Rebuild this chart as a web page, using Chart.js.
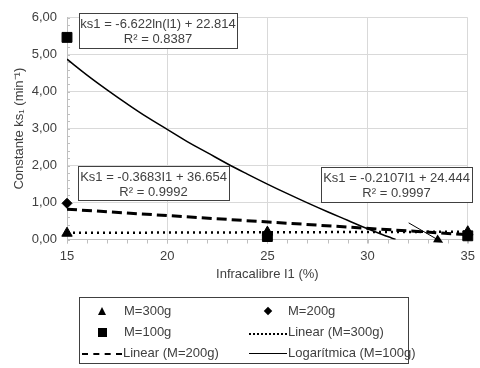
<!DOCTYPE html>
<html>
<head>
<meta charset="utf-8">
<script src="https://cdn.jsdelivr.net/npm/chart.js@4.4.1/dist/chart.umd.min.js"></script>
<style>
  html, body { margin: 0; padding: 0; background: #fff; }
  #wrap { position: relative; width: 480px; height: 368px; }
  #legend {
    position: absolute; left: 79px; top: 297px; width: 330px; height: 67px;
    border: 1px solid #404040; box-sizing: border-box;
    font: 13px "Liberation Sans", Arial, sans-serif; color: #404040;
  }
  .it { position: absolute; height: 16px; line-height: 16px; white-space: nowrap; }
  .mk { position: absolute; background: #000; }
  .ln { position: absolute; height: 0; }
</style>
</head>
<body>
<div id="wrap">
  <canvas id="chart" width="480" height="368"></canvas>
  <div id="legend">
    <div class="mk" style="left:18px;top:9px;width:0;height:0;background:none;border-left:4.5px solid transparent;border-right:4.5px solid transparent;border-bottom:8px solid #000;"></div>
    <div class="it" style="left:44px;top:5px;">M=300g</div>
    <div class="mk" style="left:185px;top:10px;width:6px;height:6px;transform:rotate(45deg);"></div>
    <div class="it" style="left:208px;top:5px;">M=200g</div>
    <div class="mk" style="left:18px;top:30px;width:9px;height:9px;"></div>
    <div class="it" style="left:44px;top:26px;">M=100g</div>
    <div class="ln" style="left:169px;top:35px;width:38px;border-top:2px dotted #000;"></div>
    <div class="it" style="left:208px;top:26px;">Linear (M=300g)</div>
    <div class="ln" style="left:2px;top:55px;width:40px;border-top:2.5px dashed #000;"></div>
    <div class="it" style="left:43px;top:47px;">Linear (M=200g)</div>
    <div class="ln" style="left:169px;top:55px;width:38px;border-top:1.5px solid #000;"></div>
    <div class="it" style="left:208px;top:47px;">Logarítmica (M=100g)</div>
  </div>
</div>
<script>
// datos
const infracalibre = [15, 25, 35];
const ks300 = [0.17, 0.20, 0.21];
const ks200 = [0.98, 0.15, 0.12];
const ks100 = [5.47, 0.08, 0.10];

// líneas de tendencia
const linX = [15, 35];
const lin300 = [0.18, 0.21];
const lin200 = [0.82, 0.13];
const logX = [15, 16, 17, 18, 19, 20, 21, 22, 23, 24, 25, 26, 27, 28, 29, 30, 31, 31.4];
const log100 = [4.88, 4.45, 4.05, 3.67, 3.31, 2.98, 2.65, 2.35, 2.05, 1.77, 1.50, 1.24, 0.99, 0.75, 0.52, 0.29, 0.08, 0.0];

// flecha (coordenadas de datos)
const arrowX = [32.05, 33.77];
const arrowY = [0.45, -0.09];

const FONT = '"Liberation Sans", Arial, sans-serif';

function pts(xs, ys) {
    return xs.map((x, i) => ({x: x, y: ys[i]}));
}

// cuadros de texto, flecha y marcas menores
const extras = {
    id: "extras",
    beforeDatasetsDraw(chart) {
        const ctx = chart.ctx;
        const xs = chart.scales.x, ys = chart.scales.y;
        ctx.save();
        ctx.strokeStyle = "#bfbfbf";
        ctx.lineWidth = 1;
        ctx.beginPath();
        for (let v = 15; v <= 35; v++) {
            const px = Math.round(xs.getPixelForValue(v)) + 0.5;
            ctx.moveTo(px, ys.bottom);
            ctx.lineTo(px, ys.bottom + 4);
        }
        for (let v = 0; v <= 6.001; v += 0.2) {
            const py = Math.round(ys.getPixelForValue(v)) + 0.5;
            ctx.moveTo(xs.left, py);
            ctx.lineTo(xs.left + 3, py);
        }
        ctx.stroke();
        ctx.restore();
    },
    afterDatasetsDraw(chart) {
        const ctx = chart.ctx;
        const xs = chart.scales.x, ys = chart.scales.y;
        ctx.save();
        // flecha
        const x0 = xs.getPixelForValue(arrowX[0]), y0 = ys.getPixelForValue(arrowY[0]);
        const x1 = xs.getPixelForValue(arrowX[1]), y1 = ys.getPixelForValue(arrowY[1]);
        const ang = Math.atan2(y1 - y0, x1 - x0);
        ctx.strokeStyle = "#000";
        ctx.fillStyle = "#000";
        ctx.lineWidth = 1;
        ctx.beginPath();
        ctx.moveTo(x0, y0);
        ctx.lineTo(x1 - 7 * Math.cos(ang), y1 - 7 * Math.sin(ang));
        ctx.stroke();
        ctx.beginPath();
        ctx.moveTo(x1, y1);
        ctx.lineTo(x1 - 9 * Math.cos(ang) + 4.5 * Math.sin(ang), y1 - 9 * Math.sin(ang) - 4.5 * Math.cos(ang));
        ctx.lineTo(x1 - 9 * Math.cos(ang) - 4.5 * Math.sin(ang), y1 - 9 * Math.sin(ang) + 4.5 * Math.cos(ang));
        ctx.closePath();
        ctx.fill();

        // cuadros
        const boxes = [
            {x: 79, y: 13, w: 158, h: 35, lines: ["ks1 = -6.622ln(l1) + 22.814", "R² = 0.8387"]},
            {x: 78, y: 166, w: 151, h: 34, lines: ["Ks1 = -0.3683I1 + 36.654", "R² = 0.9992"]},
            {x: 321, y: 167, w: 151, h: 35, lines: ["Ks1 = -0.2107I1 + 24.444", "R² = 0.9997"]},
        ];
        ctx.font = "13px " + FONT;
        ctx.textAlign = "center";
        ctx.textBaseline = "middle";
        for (const b of boxes) {
            ctx.fillStyle = "#fff";
            ctx.fillRect(b.x, b.y, b.w, b.h);
            ctx.strokeStyle = "#404040";
            ctx.strokeRect(b.x + 0.5, b.y + 0.5, b.w, b.h);
            ctx.fillStyle = "#404040";
            ctx.fillText(b.lines[0], b.x + b.w / 2, b.y + 11);
            ctx.fillText(b.lines[1], b.x + b.w / 2, b.y + 26);
        }
        ctx.restore();
    }
};

new Chart(document.querySelector("#chart"), {
    type: "scatter",
    data: {
        datasets: [
            {label: "M=300g", data: pts(infracalibre, ks300), pointStyle: "triangle", pointRadius: 6,
             backgroundColor: "#000", borderColor: "#000", clip: false, order: 0},
            {label: "M=200g", data: pts(infracalibre, ks200), pointStyle: "rectRot", pointRadius: 5,
             backgroundColor: "#000", borderColor: "#000", clip: false, order: 0},
            {label: "M=100g", data: pts(infracalibre, ks100), pointStyle: "rect", pointRadius: 7,
             backgroundColor: "#000", borderColor: "#000", clip: false, order: 0},
            {label: "Linear (M=300g)", data: pts(linX, lin300), showLine: true, pointRadius: 0,
             borderColor: "#000", borderWidth: 2.5, borderDash: [2, 4], order: 1},
            {label: "Linear (M=200g)", data: pts(linX, lin200), showLine: true, pointRadius: 0,
             borderColor: "#000", borderWidth: 3, borderDash: [10, 5], order: 1},
            {label: "Logarítmica (M=100g)", data: pts(logX, log100), showLine: true, pointRadius: 0,
             borderColor: "#000", borderWidth: 1.5, tension: 0.4, order: 1},
        ],
    },
    options: {
        responsive: false,
        animation: false,
        layout: {padding: {left: 8, top: 15, right: 8, bottom: 82}},
        plugins: {legend: {display: false}, tooltip: {enabled: false}},
        scales: {
            x: {
                type: "linear", min: 15, max: 35,
                afterFit: s => { s.height = 46.5; },
                ticks: {stepSize: 5, padding: 5, color: "#404040", font: {family: FONT, size: 13}},
                grid: {color: "#d9d9d9", tickLength: 4, tickColor: "#bfbfbf"},
                border: {color: "#bfbfbf"},
                title: {display: true, text: "Infracalibre I1 (%)", color: "#404040", font: {family: FONT, size: 13}},
            },
            y: {
                min: 0, max: 6,
                afterFit: s => { s.width = 59; },
                ticks: {stepSize: 1, padding: 10, color: "#404040", font: {family: FONT, size: 13},
                        callback: v => v.toFixed(2).replace(".", ",")},
                grid: {color: "#d9d9d9", drawTicks: false},
                border: {color: "#bfbfbf"},
                title: {display: true, text: "Constante ks₁ (min⁻¹)", color: "#404040", font: {family: FONT, size: 13}},
            },
        },
    },
    plugins: [extras],
});
</script>
</body>
</html>
